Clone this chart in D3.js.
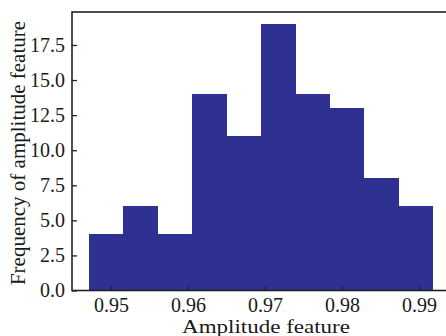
<!DOCTYPE html>
<html>
<head>
<meta charset="utf-8">
<script src="https://cdn.jsdelivr.net/npm/d3@7"></script>
<style>
  html, body { margin: 0; padding: 0; background: #fff; }
  svg { display: block; }
  text { font-family: "Liberation Serif", "Times New Roman", serif; fill: #1a1a1a; }
</style>
</head>
<body>
<svg id="chart" width="446" height="336"></svg>
<script>
// Histogram data
const binEdges = [0.9472, 0.9516, 0.9561, 0.9605, 0.9650, 0.9695, 0.9739, 0.9784, 0.9828, 0.9873, 0.9917];
const counts   = [4, 6, 4, 14, 11, 19, 14, 13, 8, 6];
const xTicks   = [0.95, 0.96, 0.97, 0.98, 0.99];
const yTicks   = [0, 2.5, 5, 7.5, 10, 12.5, 15, 17.5];
const xLabel = "Amplitude feature";
const yLabel = "Frequency of amplitude feature";

const bins = counts.map((c, i) => ({ x0: binEdges[i], x1: binEdges[i + 1], count: c }));

const svg = d3.select("#chart");
const mLeft = 72, mRight = 449.5, mTop = 12, mBottom = 290.5;

const x = d3.scaleLinear().domain([0.94494, 0.99396]).range([mLeft, mRight]);
const y = d3.scaleLinear().domain([0, 19.85]).range([mBottom, mTop]);

// bars
svg.append("g").attr("shape-rendering", "crispEdges")
  .selectAll("rect").data(bins).join("rect")
  .attr("x", d => x(d.x0))
  .attr("y", d => y(d.count))
  .attr("width", d => x(d.x1) - x(d.x0) + 0.5)
  .attr("height", d => y(0) - y(d.count))
  .attr("fill", "#2e3192");

// frame
svg.append("rect")
  .attr("x", mLeft).attr("y", mTop)
  .attr("width", mRight - mLeft).attr("height", mBottom - mTop)
  .attr("fill", "none").attr("stroke", "#222").attr("stroke-width", 1.6);

// x axis
const xAxis = d3.axisBottom(x).tickValues(xTicks).tickFormat(d3.format(".2f"))
  .tickSizeInner(-5).tickSizeOuter(0).tickPadding(7);
const gx = svg.append("g").attr("transform", `translate(0,${mBottom})`).call(xAxis);
gx.select(".domain").remove();
gx.selectAll(".tick line").attr("stroke", "#222").attr("stroke-width", 1.3);
gx.selectAll(".tick text")
  .attr("font-size", 20).attr("fill", "#1a1a1a")
  .attr("font-family", "Liberation Serif");

// y axis
const yAxis = d3.axisLeft(y).tickValues(yTicks).tickFormat(d3.format(".1f"))
  .tickSizeInner(-5).tickSizeOuter(0).tickPadding(7);
const gy = svg.append("g").attr("transform", `translate(${mLeft},0)`).call(yAxis);
gy.select(".domain").remove();
gy.selectAll(".tick line").attr("stroke", "#222").attr("stroke-width", 1.3);
gy.selectAll(".tick text")
  .attr("font-size", 20).attr("fill", "#1a1a1a")
  .attr("font-family", "Liberation Serif");

// axis labels
svg.append("text")
  .attr("transform", "translate(266,333) scale(1,0.8)")
  .attr("text-anchor", "middle")
  .attr("font-size", 23)
  .text(xLabel);

svg.append("text")
  .attr("transform", "translate(25,153) rotate(-90)")
  .attr("text-anchor", "middle")
  .attr("font-size", 21)
  .text(yLabel);
</script>
</body>
</html>
